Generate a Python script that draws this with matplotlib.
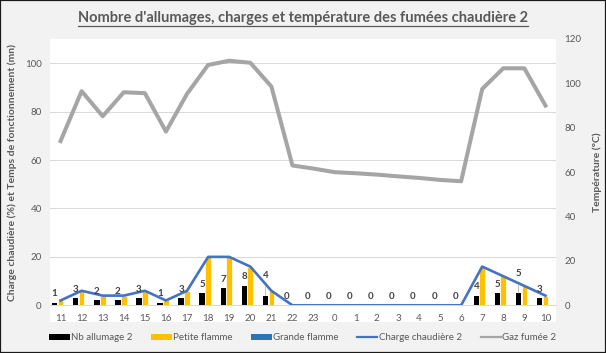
import matplotlib

matplotlib.use("Agg")
import matplotlib.pyplot as plt
import numpy as np
from matplotlib.lines import Line2D
from matplotlib.patches import Patch, Rectangle

HOURS = ["11", "12", "13", "14", "15", "16", "17", "18", "19", "20", "21", "22", "23",
         "0", "1", "2", "3", "4", "5", "6", "7", "8", "9", "10"]
NB_ALLUMAGE = [1, 3, 2, 2, 3, 1, 3, 5, 7, 8, 4, 0, 0, 0, 0, 0, 0, 0, 0, 0, 4, 5, 5, 3]
PETITE_FLAMME = [2, 6, 4, 4, 6, 2, 6, 20, 20, 16, 6, 0, 0, 0, 0, 0, 0, 0, 0, 0, 16, 12, 8, 4]
GRANDE_FLAMME = [0, 0, 0, 0, 0, 0, 0, 0, 0, 0, 0, 0, 0, 0, 0, 0, 0, 0, 0, 0, 0, 0, 0, 0]
CHARGE = [2, 6, 4, 4, 6, 2, 6, 20, 20, 16, 6, 0, 0, 0, 0, 0, 0, 0, 0, 0, 16, 12, 8, 4]
GAZ_FUMEE = [74.0, 96.5, 85.2, 96.0, 95.6, 78.3, 95.3, 108.3, 110.2, 109.3, 98.6, 63.0,
             61.6, 60.0, 59.5, 58.9, 58.1, 57.4, 56.5, 55.9, 97.5, 106.8, 106.8, 90.0]

TITLE = "Nombre d'allumages, charges et température des fumées chaudière 2"
FONT = ["Lato", "DejaVu Sans"]
TXT = "#595959"
GRID = "#d9d9d9"
LIFTED = {"21", "9"}  # labels Excel moved up, with leader lines

plt.rcParams["font.family"] = FONT

W, H = 606, 353
fig = plt.figure(figsize=(W / 100, H / 100), dpi=100)
fig.patch.set_facecolor("#f2f2f2")

# white plot area (includes category labels, as in Excel)
fig.add_artist(Rectangle((50 / W, 1 - 322 / H), 506 / W, (322 - 39) / H,
                         transform=fig.transFigure, facecolor="white",
                         edgecolor="none", zorder=-1))
fig.add_artist(Rectangle((0, 0), 1, 1, transform=fig.transFigure, fill=False,
                         edgecolor="#1a1a1a", linewidth=1.6, zorder=10))

ax = fig.add_axes([50 / W, 1 - 305.3 / H, 506 / W, (305.3 - 39) / H])
ax.set_facecolor("none")
x = np.arange(len(HOURS))

ax.bar(x - 0.28, NB_ALLUMAGE, width=0.26, color="#000000", zorder=3)
ax.bar(x, PETITE_FLAMME, width=0.27, color="#ffc000", edgecolor="white",
       linewidth=0.5, zorder=3)
ax.bar(x + 0.28, GRANDE_FLAMME, width=0.26, color="#2e75b6", zorder=3)
ax.plot(x, CHARGE, color="#4472c4", linewidth=1.9, zorder=4)

for i, v in enumerate(NB_ALLUMAGE):
    lift = 14.5 if HOURS[i] in LIFTED else 6.5
    props = None
    if HOURS[i] in LIFTED:
        props = dict(arrowstyle="-", color="#a6a6a6", linewidth=0.5, shrinkA=3, shrinkB=0)
    ax.annotate(str(v), (x[i] - 0.28, v), xytext=(0, lift), textcoords="offset points",
                ha="center", va="center", fontsize=7, fontweight="bold", color="#404040",
                arrowprops=props, zorder=5)

ax.set_xlim(-0.5, len(HOURS) - 0.5)
ax.set_ylim(0, 110)
ax.set_yticks(np.arange(0, 101, 20))
ax.set_xticks(x)
ax.set_xticklabels(HOURS)
ax.yaxis.grid(True, color=GRID, linewidth=0.75, zorder=0)
ax.set_axisbelow(True)
for s in ("top", "left", "right"):
    ax.spines[s].set_visible(False)
ax.spines["bottom"].set_color(GRID)
ax.spines["bottom"].set_linewidth(0.75)
ax.tick_params(axis="both", length=0, labelsize=7, labelcolor=TXT)
ax.tick_params(axis="x", pad=6)
ax.tick_params(axis="y", pad=6)
ax.set_ylabel("Charge chaudière (%) et Temps de fonctionnement (mn)", fontsize=7.5,
              fontweight="bold", color=TXT, labelpad=6)

ax2 = ax.twinx()
ax2.plot(x, GAZ_FUMEE, color="#a5a5a5", linewidth=2.9, solid_joinstyle="round", zorder=4)
ax2.set_ylim(0, 120)
ax2.set_yticks(np.arange(0, 121, 20))
for s in ax2.spines.values():
    s.set_visible(False)
ax2.tick_params(axis="y", length=0, labelsize=7, labelcolor=TXT, pad=6)
ax2.set_ylabel("Température (°C)", fontsize=7.5, fontweight="bold", color=TXT, labelpad=8)

handles = [
    Patch(facecolor="#000000"),
    Patch(facecolor="#ffc000"),
    Patch(facecolor="#2e75b6"),
    Line2D([], [], color="#4472c4", linewidth=1.6),
    Line2D([], [], color="#a5a5a5", linewidth=1.6),
]
labels = ["Nb allumage 2", "Petite flamme", "Grande flamme", "Charge chaudière 2", "Gaz fumée 2"]
fig.legend(handles, labels, loc="center", bbox_to_anchor=(0.5, 1 - 338 / H), ncol=5,
           frameon=False, fontsize=7, handlelength=2.1, handleheight=0.6,
           handletextpad=0.15, columnspacing=1.9, labelcolor=TXT)

title = fig.text(0.5, 1 - 18 / H, TITLE, ha="center", va="center", fontsize=10.5,
                 fontweight="bold", color=TXT)
fig.canvas.draw()
bb = title.get_window_extent().transformed(fig.transFigure.inverted())
fig.add_artist(Line2D([bb.x0, bb.x1], [bb.y0 - 0.004, bb.y0 - 0.004],
                      transform=fig.transFigure, color=TXT, linewidth=0.9))

fig.savefig("out.png", dpi=100, facecolor=fig.get_facecolor())
plt.close(fig)
